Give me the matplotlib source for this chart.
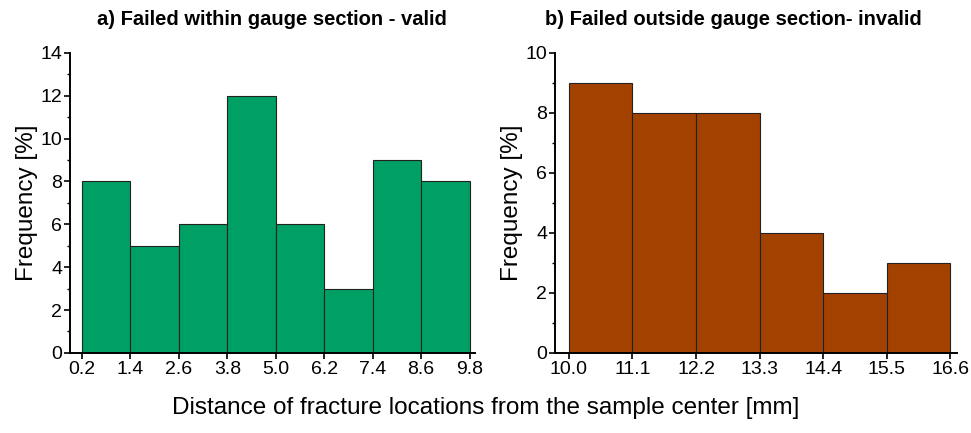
import numpy as np
import matplotlib.pyplot as plt
from matplotlib.ticker import MultipleLocator

plt.rcParams['font.family'] = ['Liberation Sans', 'DejaVu Sans']

# bin edges and frequencies (%)
valid_edges = [0.2, 1.4, 2.6, 3.8, 5.0, 6.2, 7.4, 8.6, 9.8]
valid_freq = [8, 5, 6, 12, 6, 3, 9, 8]
invalid_edges = [10.0, 11.1, 12.2, 13.3, 14.4, 15.5, 16.6]
invalid_freq = [9, 8, 8, 4, 2, 3]

fig = plt.figure(figsize=(9.71, 4.33), dpi=100)
ax1 = fig.add_axes([0.072, 0.185, 0.417, 0.693])
ax2 = fig.add_axes([0.5715, 0.185, 0.4145, 0.693])


def draw_hist(ax, edges, freq, color, ymax, xlim):
    edges = np.array(edges)
    ax.bar(edges[:-1], freq, width=np.diff(edges), align='edge',
           color=color, edgecolor='#222222', linewidth=0.8)
    ax.set_xlim(*xlim)
    ax.set_ylim(0, ymax)
    ax.set_xticks(edges)
    ax.set_xticklabels([f'{e:.1f}' for e in edges])
    ax.yaxis.set_major_locator(MultipleLocator(2))
    ax.yaxis.set_minor_locator(MultipleLocator(1))
    for s in ['top', 'right']:
        ax.spines[s].set_visible(False)
    for s in ['left', 'bottom']:
        ax.spines[s].set_linewidth(1.4)
    ax.tick_params(axis='both', which='major', direction='out', length=4,
                   width=1.2, labelsize=14, pad=1.5)
    ax.tick_params(axis='y', which='minor', direction='out', length=2.5, width=1)
    ax.set_ylabel('Frequency [%]', fontsize=17.5, labelpad=2)


draw_hist(ax1, valid_edges, valid_freq, '#00A064', 14, (-0.1, 9.93))
draw_hist(ax2, invalid_edges, invalid_freq, '#A34200', 10, (9.76, 16.72))

ax1.set_title('a) Failed within gauge section - valid', fontsize=14.5,
              fontweight='bold', pad=20)
ax2.set_title('b) Failed outside gauge section- invalid', fontsize=14.5,
              fontweight='bold', pad=20, x=0.443)

fig.text(0.5, 0.058, 'Distance of fracture locations from the sample center [mm]',
         ha='center', va='center', fontsize=17.5)

fig.savefig('out.png', dpi=100)
